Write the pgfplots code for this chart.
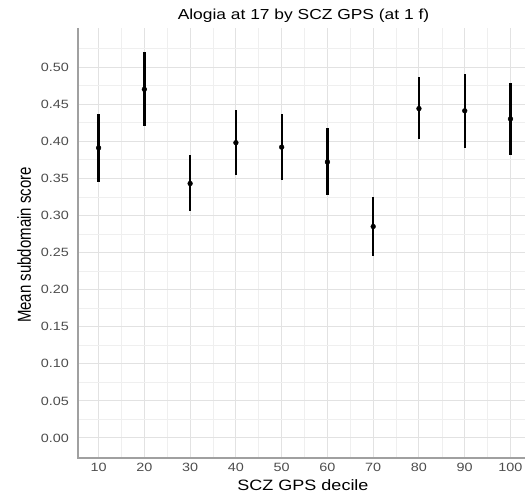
\documentclass[border=0pt]{standalone}
\usepackage{fontspec}
\setmainfont[FakeStretch=1.2]{Liberation Sans}
\newfontfamily\plainsans{Liberation Sans}
\usepackage{graphicx}
\usepackage{pgfplots}
\usepackage{pgfplotstable}
\pgfplotsset{compat=1.18}

\definecolor{gridmaj}{HTML}{E2E2E2}
\definecolor{gridmin}{HTML}{EFEFEF}
\definecolor{axisgray}{HTML}{A0A0A0}
\definecolor{ticktext}{HTML}{4D4D4D}

\pgfplotstableread{
x   y     ep    em
10  0.391 0.045 0.046
20  0.470 0.050 0.049
30  0.343 0.038 0.037
40  0.398 0.044 0.044
50  0.392 0.045 0.044
60  0.372 0.046 0.045
70  0.285 0.040 0.040
80  0.444 0.042 0.041
90  0.441 0.050 0.050
100 0.430 0.048 0.048
}\datatable

\begin{document}
\begin{tikzpicture}[x=1pt,y=1pt]
\begin{axis}[
  at={(78pt,36pt)}, anchor=south west,
  scale only axis, width=447pt, height=430pt,
  xmin=5.5, xmax=103.17, ymin=-0.027, ymax=0.5526,
  axis line style={draw=none},
  major tick length=0pt, minor tick length=0pt,
  tick style={draw=none},
  xtick={10,20,30,40,50,60,70,80,90,100},
  minor xtick={5,15,25,35,45,55,65,75,85,95},
  ytick={0,0.05,0.1,0.15,0.2,0.25,0.3,0.35,0.4,0.45,0.5},
  minor ytick={0.025,0.075,0.125,0.175,0.225,0.275,0.325,0.375,0.425,0.475,0.525},
  grid=both,
  major grid style={draw=gridmaj, line width=1pt},
  minor grid style={draw=gridmin, line width=0.6pt},
  /pgf/number format/assume math mode=true,
  ticklabel style={font=\fontsize{12}{12}\selectfont, text=ticktext, inner sep=0pt},
  xticklabel style={anchor=base, yshift=-14pt},
  yticklabel style={anchor=east, xshift=-9pt,
    /pgf/number format/fixed, /pgf/number format/fixed zerofill,
    /pgf/number format/precision=2},
  clip=false,
  after end axis/.code={
    \draw[axisgray, line width=1.3pt] (rel axis cs:0,1) -- (rel axis cs:0,0) -- (rel axis cs:1,0);
  },
]
\addplot[only marks, mark=*, mark size=2.4pt, black,
  error bars/.cd, y dir=both, y explicit, error mark=none,
  error bar style={line width=2.3pt, black}]
  table[x=x, y=y, y error plus=ep, y error minus=em]{\datatable};
\end{axis}
\node[anchor=base, font=\fontsize{14.5}{14.5}\selectfont] at (303.5pt,474.7pt) {Alogia at 17 by SCZ GPS (at 1 f)};
\node[anchor=base, font=\fontsize{15}{15}\selectfont] at (303pt,3pt) {SCZ GPS decile};
\node[anchor=base, rotate=90, inner sep=0pt] at (31pt,249pt) {\scalebox{1}[1.25]{\plainsans\fontsize{15}{15}\selectfont Mean subdomain score}};
\pgfresetboundingbox
\path[use as bounding box] (0,0) rectangle (525pt,494pt);
\end{tikzpicture}
\end{document}
